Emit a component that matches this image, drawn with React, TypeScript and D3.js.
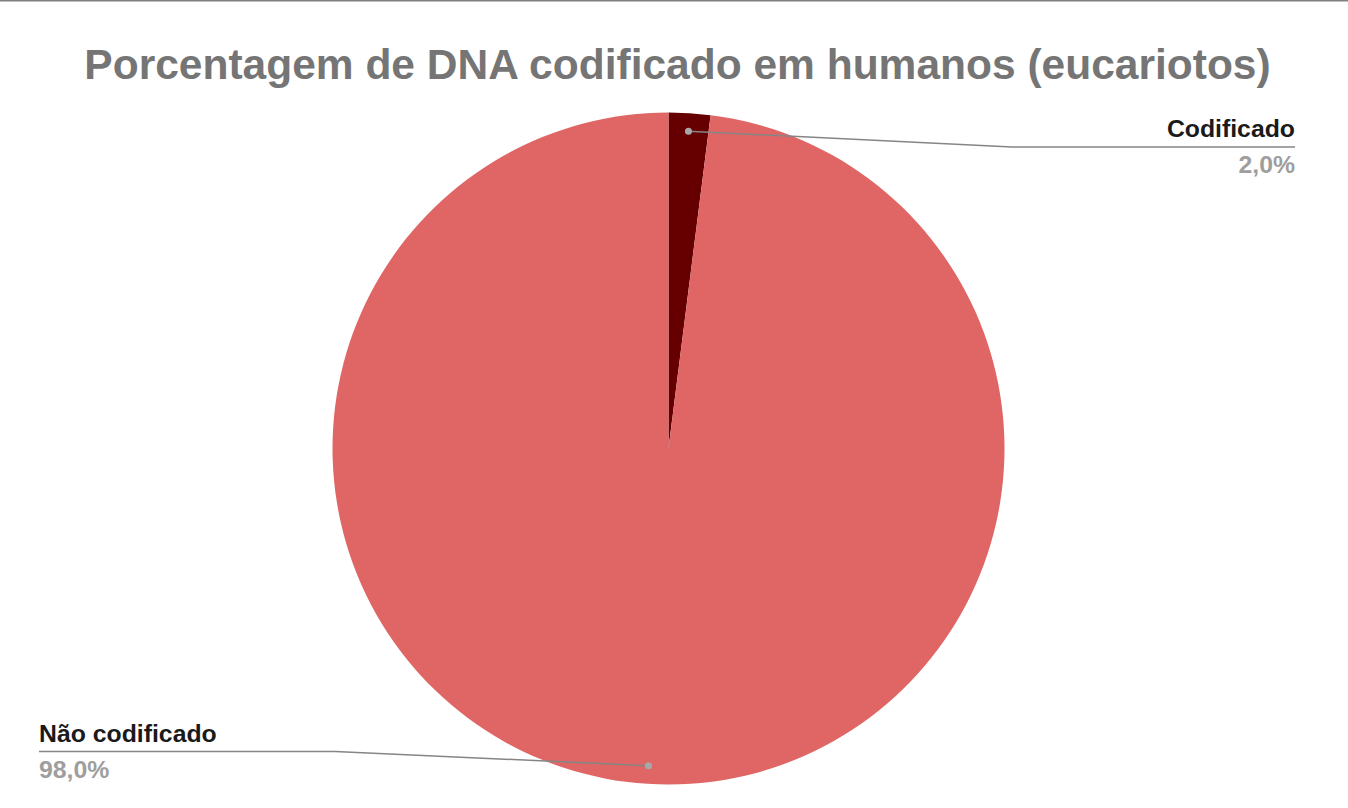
import React, { useEffect, useRef } from "react";
import * as d3 from "d3";

const categories = ["Codificado", "Não codificado"];
const values = [2.0, 98.0];
const valueLabels = ["2,0%", "98,0%"];
const colors = ["#660000", "#e06666"];
const title = "Porcentagem de DNA codificado em humanos (eucariotos)";

const W = 1348;
const H = 808;

const App: React.FC = () => {
  const svgRef = useRef<SVGSVGElement>(null);

  useEffect(() => {
    if (!svgRef.current) return;
    const svg = d3.select(svgRef.current);
    svg.selectAll("*").remove();

    const cx = 668.5;
    const cy = 448.5;
    const radius = 336;

    // thin frame line across the top
    svg
      .append("line")
      .attr("x1", 0)
      .attr("x2", W)
      .attr("y1", 0.5)
      .attr("y2", 0.5)
      .attr("stroke", "#808080")
      .attr("stroke-width", 2);

    svg
      .append("text")
      .attr("x", 677.5)
      .attr("y", 79)
      .attr("text-anchor", "middle")
      .attr("font-family", "'Liberation Sans', Arial, sans-serif")
      .attr("font-weight", "bold")
      .attr("font-size", 42.5)
      .attr("fill", "#757575")
      .text(title);

    const data = categories.map((c, i) => ({ name: c, value: values[i], label: valueLabels[i] }));

    const pie = d3
      .pie<(typeof data)[0]>()
      .sort(null)
      .value(d => d.value);
    const arcs = pie(data);

    const arcPath = d3
      .arc<d3.PieArcDatum<(typeof data)[0]>>()
      .innerRadius(0)
      .outerRadius(radius);

    const g = svg.append("g").attr("transform", `translate(${cx},${cy})`);
    g.selectAll("path")
      .data(arcs)
      .enter()
      .append("path")
      .attr("d", arcPath)
      .attr("fill", (d, i) => colors[i]);

    // leader lines and labels
    const dotR = radius * 0.946;
    const font = "'Liberation Sans', Arial, sans-serif";
    arcs.forEach((a, i) => {
      const mid = (a.startAngle + a.endAngle) / 2;
      const px = cx + Math.sin(mid) * dotR;
      const py = cy - Math.cos(mid) * dotR;
      const right = Math.sin(mid) > 0;
      const lineY = right ? 147 : 751.5;
      const bendX = right ? 1012 : 335;
      const endX = right ? 1295 : 39;

      svg
        .append("polyline")
        .attr("points", `${px},${py} ${bendX},${lineY} ${endX},${lineY}`)
        .attr("fill", "none")
        .attr("stroke", "#858585")
        .attr("stroke-width", 1.5);
      svg
        .append("circle")
        .attr("cx", px)
        .attr("cy", py)
        .attr("r", 3.5)
        .attr("fill", "#a8a8a8");

      const anchor = right ? "end" : "start";
      svg
        .append("text")
        .attr("x", endX)
        .attr("y", lineY - 10)
        .attr("text-anchor", anchor)
        .attr("font-family", font)
        .attr("font-weight", "bold")
        .attr("font-size", 24.8)
        .attr("fill", "#1a1a1a")
        .text(a.data.name);
      svg
        .append("text")
        .attr("x", endX)
        .attr("y", lineY + 26)
        .attr("text-anchor", anchor)
        .attr("font-family", font)
        .attr("font-weight", "bold")
        .attr("font-size", 24.8)
        .attr("fill", "#9e9e9e")
        .text(a.data.label);
    });
  }, []);

  return (
    <svg
      ref={svgRef}
      width={W}
      height={H}
      style={{ position: "absolute", left: 0, top: 0, background: "#ffffff" }}
    />
  );
};

export default App;
